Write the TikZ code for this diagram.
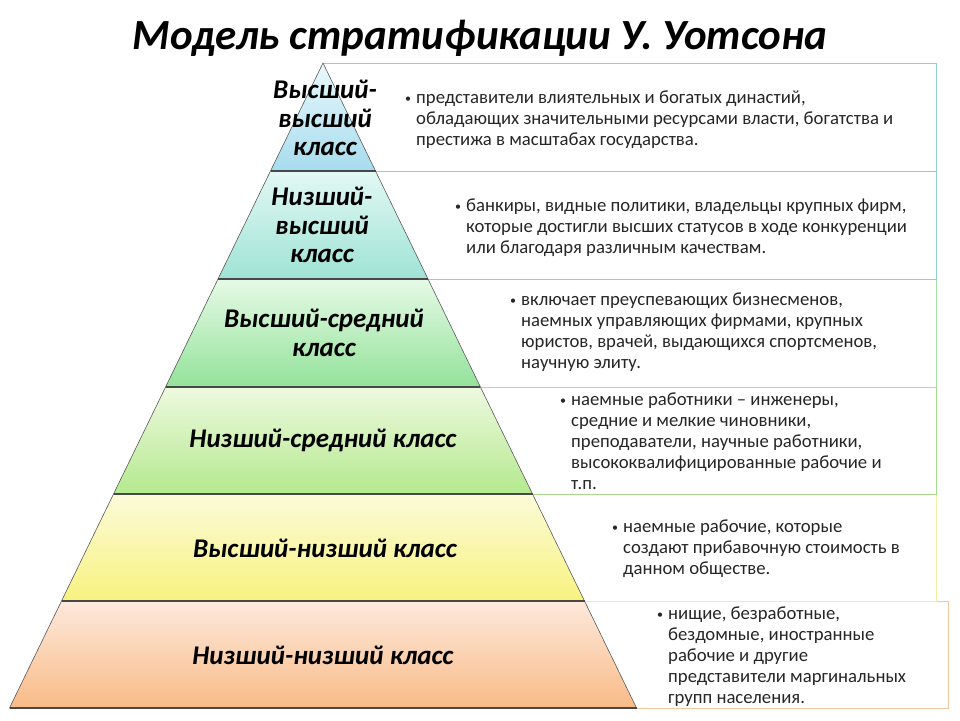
\documentclass[tikz,border=0pt]{standalone}
\usepackage{fontspec}
\setmainfont{Carlito}
\definecolor{bA}{HTML}{8ECFCF}
\definecolor{bB}{HTML}{8ECFCF}
\definecolor{bC}{HTML}{A8DEA8}
\definecolor{bD}{HTML}{A9D98A}
\definecolor{bE}{HTML}{EEF0A8}
\definecolor{bF}{HTML}{F0C9A0}
\definecolor{tA}{HTML}{EAF8FC}\definecolor{uA}{HTML}{A6DCEE}
\definecolor{tB}{HTML}{E2F8F4}\definecolor{uB}{HTML}{9FE3D5}
\definecolor{tC}{HTML}{E6FAE6}\definecolor{uC}{HTML}{93E29A}
\definecolor{tD}{HTML}{EEF9DF}\definecolor{uD}{HTML}{B4E98E}
\definecolor{tE}{HTML}{FBFBD9}\definecolor{uE}{HTML}{F8F27F}
\definecolor{tF}{HTML}{FDE9DC}\definecolor{uF}{HTML}{F9BB87}
\definecolor{edge}{HTML}{5A5A5A}
\tikzset{
  infobox/.style={fill=white,line width=1pt},
  layer/.style={draw=edge,line width=0.6pt,shading=axis,shading angle=0},
  baseline/.style={draw=edge!80!black,line width=1.3pt},
  lbl/.style={font=\fontsize{27}{28.5}\selectfont\bfseries\itshape,align=center,text=black,inner sep=0pt},
  desc/.style={font=\fontsize{18.7}{20.8}\selectfont,align=left,anchor=north west,inner sep=0pt,text=black!85},
}
\newcommand{\bul}{\makebox[11pt][l]{\fontsize{12}{12}\selectfont\raisebox{1.5pt}{•}}}
\newcommand{\ind}{\hspace*{11pt}}
\begin{document}
\begin{tikzpicture}[x=1pt,y=-1pt]
\useasboundingbox (0,0) rectangle (960,720);
\fill[white] (0,0) rectangle (960,720);
% title
\node[font=\fontsize{43}{46}\selectfont\bfseries\itshape] (title) at (480,38) {Модель стратификации У. Уотсона};
% info boxes
\draw[infobox,draw=bF] (330,601) rectangle (948,708);
\draw[infobox,draw=bE] (330,494) rectangle (936,601);
\draw[infobox,draw=bD] (330,387) rectangle (936,494);
\draw[infobox,draw=bC] (330,279) rectangle (936,387);
\draw[infobox,draw=bB] (330,171) rectangle (936,279);
\draw[infobox,draw=bA] (323,63) rectangle (936,171);
% pyramid layers
\path[layer,top color=tA,bottom color=uA] (323,63) -- (375.5,171) -- (270.5,171) -- cycle;
\path[layer,top color=tB,bottom color=uB] (270.5,171) -- (375.5,171) -- (428,279) -- (218,279) -- cycle;
\path[layer,top color=tC,bottom color=uC] (218,279) -- (428,279) -- (480.4,387) -- (165.6,387) -- cycle;
\path[layer,top color=tD,bottom color=uD] (165.6,387) -- (480.4,387) -- (532.5,494) -- (113.5,494) -- cycle;
\path[layer,top color=tE,bottom color=uE] (113.5,494) -- (532.5,494) -- (584.5,601) -- (61.5,601) -- cycle;
\path[layer,top color=tF,bottom color=uF] (61.5,601) -- (584.5,601) -- (636.5,708) -- (9.5,708) -- cycle;
\draw[baseline] (270.5,171) -- (375.5,171);
\draw[baseline] (218,279) -- (428,279);
\draw[baseline] (165.6,387) -- (480.4,387);
\draw[baseline] (113.5,494) -- (532.5,494);
\draw[baseline] (61.5,601) -- (584.5,601);
\draw[baseline] (9.5,708) -- (636.5,708);
% layer labels
\node[lbl] (l1) at (325,118) {Высший-\\высший\\класс};
\node[lbl] (l2) at (322,225) {Низший-\\высший\\класс};
\node[lbl] (l3) at (324,333) {Высший-средний\\класс};
\node[lbl] (l4) at (323,440) {Низший-средний класс};
\node[lbl] (l5) at (325,548) {Высший-низший класс};
\node[lbl] (l6) at (323,655) {Низший-низший класс};
% descriptions
\node[desc] (d1) at (405,91) {\bul представители влиятельных и богатых династий,\\\ind обладающих значительными ресурсами власти, богатства и\\\ind престижа в масштабах государства.};
\node[desc] (d2) at (455,199) {\bul банкиры, видные политики, владельцы крупных фирм,\\\ind которые достигли высших статусов в ходе конкуренции\\\ind или благодаря различным качествам.};
\node[desc] (d3) at (510,293) {\bul включает преуспевающих бизнесменов,\\\ind наемных управляющих фирмами, крупных\\\ind юристов, врачей, выдающихся спортсменов,\\\ind научную элиту.};
\node[desc] (d4) at (560,393) {\bul наемные работники – инженеры,\\\ind средние и мелкие чиновники,\\\ind преподаватели, научные работники,\\\ind высококвалифицированные рабочие и\\\ind т.п.};
\node[desc] (d5) at (612,520) {\bul наемные рабочие, которые\\\ind создают прибавочную стоимость в\\\ind данном обществе.};
\node[desc] (d6) at (657,607) {\bul нищие, безработные,\\\ind бездомные, иностранные\\\ind рабочие и другие\\\ind представители маргинальных\\\ind групп населения.};
\end{tikzpicture}
\end{document}
